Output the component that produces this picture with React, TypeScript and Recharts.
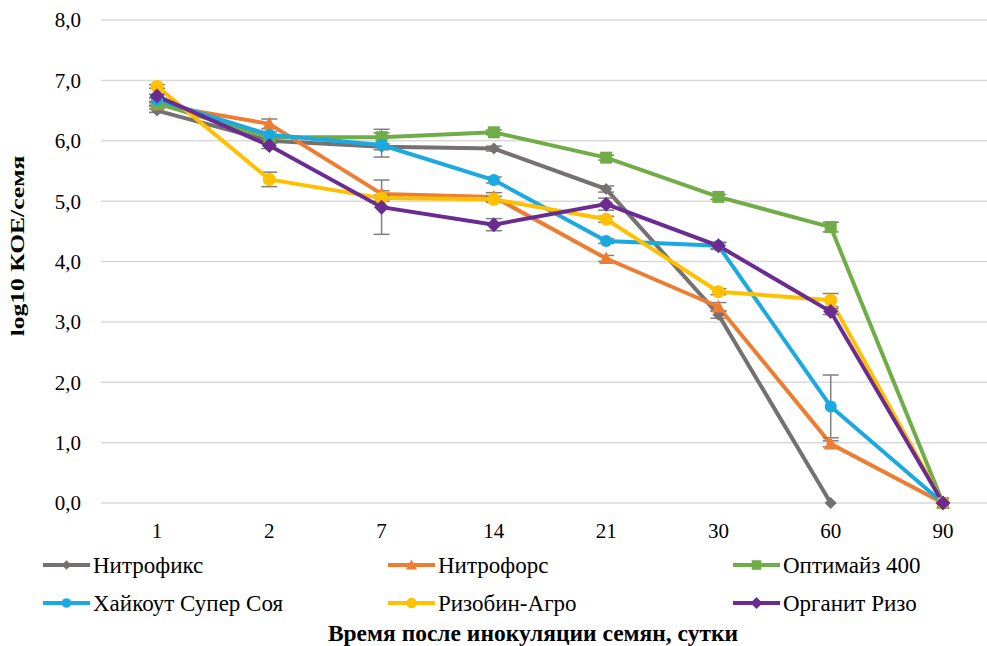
import { CartesianGrid, ErrorBar, Line, LineChart, XAxis, YAxis } from "recharts";

const days = ["1", "2", "7", "14", "21", "30", "60", "90"];
const yTicks = [0, 1, 2, 3, 4, 5, 6, 7, 8];

// log10 CFU/seed per preparation; null = no measurement
const nitrofiks = [6.5, 6.0, 5.9, 5.87, 5.2, 3.12, 0, null];
const nitrofiksErr = [0.03, 0.04, 0.05, 0.04, 0.05, 0.06, 0, 0];
const nitrofors = [6.6, 6.28, 5.12, 5.07, 4.05, 3.25, 0.98, 0];
const nitroforsErr = [0.03, 0.08, 0.05, 0.07, 0.05, 0.07, 0.05, 0];
const optimaiz = [6.62, 6.06, 6.06, 6.14, 5.72, 5.07, 4.57, 0];
const optimaizErr = [0.03, 0.04, 0.13, 0.04, 0.04, 0.04, 0.08, 0];
const khaikout = [6.68, 6.1, 5.93, 5.35, 4.34, 4.26, 1.6, 0];
const khaikoutErr = [0.03, 0.05, 0.2, 0.05, 0.04, 0.05, 0.52, 0];
const rizobin = [6.9, 5.36, 5.05, 5.03, 4.7, 3.5, 3.36, 0];
const rizobinErr = [0.03, 0.12, 0.05, 0.05, 0.05, 0.05, 0.11, 0];
const organit = [6.74, 5.92, 4.9, 4.61, 4.95, 4.26, 3.17, 0];
const organitErr = [0.03, 0.05, 0.45, 0.1, 0.1, 0.06, 0.05, 0];

type Shape = "diamond" | "triangle" | "square" | "circle";

const series: {
  key: string;
  name: string;
  color: string;
  shape: Shape;
  size: number;
  values: (number | null)[];
  err: number[];
}[] = [
  { key: "nf", name: "Нитрофикс", color: "#767171", shape: "diamond", size: 6, values: nitrofiks, err: nitrofiksErr },
  { key: "nfo", name: "Нитрофорс", color: "#ED7D31", shape: "triangle", size: 7, values: nitrofors, err: nitroforsErr },
  { key: "opt", name: "Оптимайз 400", color: "#70AD47", shape: "square", size: 6, values: optimaiz, err: optimaizErr },
  { key: "hk", name: "Хайкоут Супер Соя", color: "#1AA9E0", shape: "circle", size: 6, values: khaikout, err: khaikoutErr },
  { key: "rz", name: "Ризобин-Агро", color: "#FFC000", shape: "circle", size: 6.5, values: rizobin, err: rizobinErr },
  { key: "org", name: "Органит Ризо", color: "#6A2C91", shape: "diamond", size: 7.5, values: organit, err: organitErr },
];

const data = days.map((d, i) => {
  const row: Record<string, string | number | null> = { day: d };
  series.forEach((s) => {
    row[s.key] = s.values[i];
    row[s.key + "Err"] = s.err[i];
  });
  return row;
});

function marker(shape: Shape, cx: number, cy: number, r: number, color: string, key?: string) {
  if (shape === "circle") return <circle key={key} cx={cx} cy={cy} r={r} fill={color} />;
  if (shape === "square")
    return <rect key={key} x={cx - r} y={cy - r} width={r * 2} height={r * 2} fill={color} />;
  if (shape === "triangle")
    return (
      <polygon
        key={key}
        points={`${cx},${cy - r} ${cx + r},${cy + r * 0.8} ${cx - r},${cy + r * 0.8}`}
        fill={color}
      />
    );
  return (
    <polygon
      key={key}
      points={`${cx},${cy - r} ${cx + r},${cy} ${cx},${cy + r} ${cx - r},${cy}`}
      fill={color}
    />
  );
}

const ERR_COL = "#7f7f7f";
const FONT = "Liberation Serif";

export default function App() {
  return (
    <div
      style={{
        position: "absolute",
        left: 0,
        top: 0,
        width: 987,
        height: 646,
        overflow: "hidden",
        background: "#fff",
        fontFamily: FONT,
      }}
    >
      <LineChart
        width={1000}
        height={560}
        data={data}
        margin={{ top: 20, right: 1, left: 0, bottom: 20 }}
        style={{ fontFamily: FONT }}
      >
        <CartesianGrid vertical={false} stroke="#d9d9d9" strokeWidth={1.5} />
        <XAxis
          dataKey="day"
          height={37}
          padding={{ left: 56, right: 56 }}
          axisLine={false}
          tickLine={false}
          tickSize={0}
          tickMargin={20}
          tick={{ fontSize: 21, fill: "#000", fontFamily: FONT }}
        />
        <YAxis
          width={101}
          domain={[0, 8]}
          ticks={yTicks}
          interval={0}
          axisLine={false}
          tickLine={false}
          tickSize={0}
          tickMargin={20}
          tickFormatter={(v: number) => v.toFixed(1).replace(".", ",")}
          tick={{ fontSize: 21, fill: "#000", fontFamily: FONT }}
        />
        {series.map((s) => (
          <Line
            key={s.key}
            dataKey={s.key}
            name={s.name}
            stroke={s.color}
            strokeWidth={4}
            isAnimationActive={false}
            dot={(p: { cx?: number; cy?: number; index?: number; value?: unknown }) =>
              p.cx == null || p.cy == null || p.value == null
                ? <g key={`${s.key}-${p.index}`} />
                : marker(s.shape, p.cx, p.cy, s.size, s.color, `${s.key}-${p.index}`)
            }
            activeDot={false}
          >
            <ErrorBar
              dataKey={s.key + "Err"}
              width={8}
              stroke={ERR_COL}
              strokeWidth={1.5}
              direction="y"
            />
          </Line>
        ))}
      </LineChart>
      <svg
        width={987}
        height={646}
        style={{ position: "absolute", left: 0, top: 0, pointerEvents: "none", fontFamily: FONT }}
      >
        <text
          transform="translate(24,246) rotate(-90) scale(1.42,1)"
          textAnchor="middle"
          fontWeight="bold"
          fontSize={18}
          fill="#000"
        >
          log10 КОЕ/семя
        </text>
        {series.map((s, i) => {
          const x = 43 + (i % 3) * 345;
          const y = 565 + Math.floor(i / 3) * 38;
          return (
            <g key={s.key}>
              <line x1={x} y1={y} x2={x + 47} y2={y} stroke={s.color} strokeWidth={4} />
              {marker(s.shape, x + 23.5, y, s.size * 0.8, s.color)}
              <text x={x + 50} y={y} dy="0.35em" fontSize={23} fill="#000">
                {s.name}
              </text>
            </g>
          );
        })}
        <text
          x={533}
          y={633}
          dy="0.35em"
          textAnchor="middle"
          fontWeight="bold"
          fontSize={23.5}
          fill="#000"
        >
          Время после инокуляции семян, сутки
        </text>
      </svg>
    </div>
  );
}
